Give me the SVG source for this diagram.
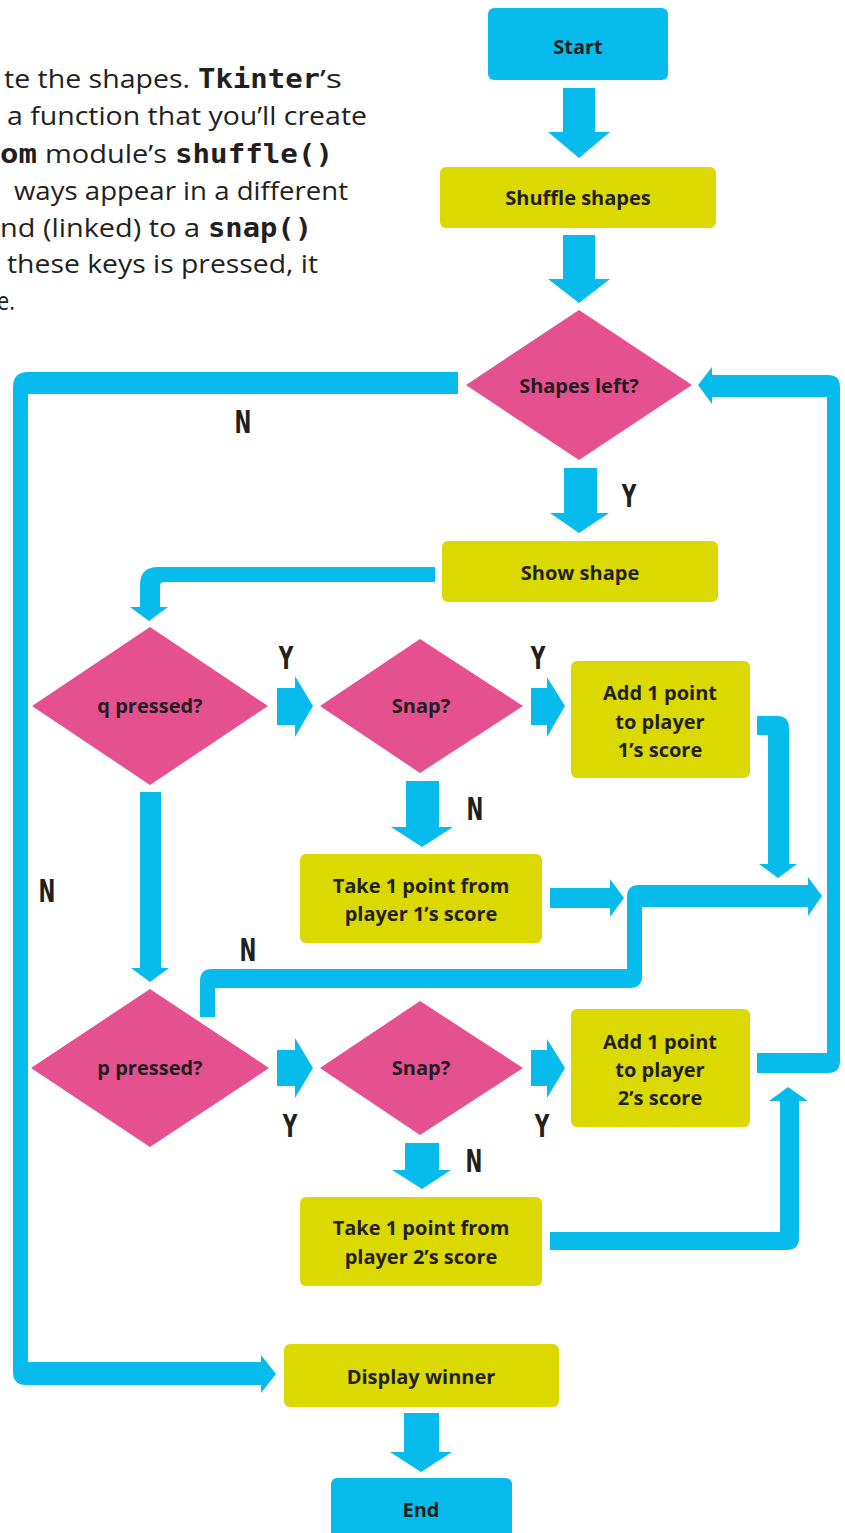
<svg xmlns="http://www.w3.org/2000/svg" width="845" height="1533" viewBox="0 0 845 1533">
<style>
.body{font-family:"Open Sans","Liberation Sans",sans-serif;font-size:26px;fill:#231f20}
.mono{font-family:"DejaVu Sans Mono","Liberation Mono",monospace;font-weight:bold;font-size:26px;fill:#231f20}
.cyan{fill:#08bbed}
.yel{fill:#dcd900}
.pink{fill:#e5508f}
.t{font-family:"Open Sans","Liberation Sans",sans-serif;font-weight:bold;font-size:20px;fill:#231f20;text-anchor:middle}
.lbl{font-family:"DejaVu Sans Condensed","Liberation Sans Narrow",sans-serif;font-weight:bold;font-size:32px;fill:#231f20;text-anchor:middle}
</style>
<rect width="845" height="1533" fill="#ffffff"/>
<g id="intro-text">
<text class="body" x="4" y="88" textLength="186" lengthAdjust="spacingAndGlyphs">te the shapes.</text>
<text class="mono" x="198" y="88" textLength="122" lengthAdjust="spacingAndGlyphs">Tkinter</text>
<text class="body" x="320" y="88" textLength="22" lengthAdjust="spacingAndGlyphs">’s</text>
<text class="body" x="7" y="125" textLength="360" lengthAdjust="spacingAndGlyphs">a function that you’ll create</text>
<text class="mono" x="0" y="163" textLength="37" lengthAdjust="spacingAndGlyphs">om</text>
<text class="body" x="45" y="163" textLength="122" lengthAdjust="spacingAndGlyphs">module’s</text>
<text class="mono" x="175" y="163" textLength="158" lengthAdjust="spacingAndGlyphs">shuffle()</text>
<text class="body" x="14" y="200" textLength="334" lengthAdjust="spacingAndGlyphs">ways appear in a different</text>
<text class="body" x="0" y="237" textLength="200" lengthAdjust="spacingAndGlyphs">nd (linked) to a</text>
<text class="mono" x="208" y="237" textLength="104" lengthAdjust="spacingAndGlyphs">snap()</text>
<text class="body" x="7" y="273" textLength="311" lengthAdjust="spacingAndGlyphs">these keys is pressed, it</text>
<text class="body" x="-3" y="310" textLength="18" lengthAdjust="spacingAndGlyphs">e.</text>
</g>
<g id="connectors" class="cyan">
<path d="M563,88 H595 V132 H610 L579,158 L548,132 H563 Z"/>
<path d="M563,235 H595 V279 H610 L579,303 L548,279 H563 Z"/>
<path d="M564,468 H597 V513 H609 L579,533 L550,513 H564 Z"/>
<path d="M435,567 H158 Q140,567 140,585 V607 H130 L149,621 L168,607 H160 V586 Q160,582 164,582 H435 Z"/>
<path d="M458,372 H28 Q13,372 13,387 V1372 Q13,1385 26,1385 H261 V1393 L276,1374 L261,1355 V1362 H28 V394 H458 Z"/>
<path d="M140,792 H161 V968 H169 L150,982 L131,968 H140 Z"/>
<path d="M277,688 H295 V676 L313,706 L295,737 V725 H277 Z"/>
<path d="M531,688 H547 V677 L565,706 L547,737 V725 H531 Z"/>
<path d="M406,781 H439 V827 H453 L422,847 L391,827 H406 Z"/>
<path d="M550,888 H610 V879 L624,898 L610,917 V908 H550 Z"/>
<path d="M757,716 H777 Q789,716 789,728 V864 H797 L778,878 L759,864 H768 V735 H757 Z"/>
<path d="M200,1017 V981 Q200,969 212,969 H627 V897 Q627,885 639,885 H808 V877 L822,896 L808,916 V907 H642 V976 Q642,988 630,988 H215 V1017 Z"/>
<path d="M757,1053 H827 V397 H712 V404 L698,385 L712,367 V375 H828 Q840,375 840,387 V1061 Q840,1073 828,1073 H757 Z"/>
<path d="M550,1232 H780 V1101 H769 L788,1087 L808,1101 H799 V1238 Q799,1250 787,1250 H550 Z"/>
<path d="M277,1050 H295 V1038 L313,1068 L295,1098 V1086 H277 Z"/>
<path d="M531,1050 H547 V1039 L565,1068 L547,1098 V1086 H531 Z"/>
<path d="M405,1143 H439 V1170 H451 L422,1189 L392,1170 H405 Z"/>
<path d="M404,1413 H439 V1452 H452 L421,1472 L390,1452 H404 Z"/>
</g>
<g id="labels">
<text class="lbl" transform="translate(243,433) scale(0.7,1)">N</text>
<text class="lbl" transform="translate(629,507) scale(0.7,1)">Y</text>
<text class="lbl" transform="translate(286,669) scale(0.7,1)">Y</text>
<text class="lbl" transform="translate(538,669) scale(0.7,1)">Y</text>
<text class="lbl" transform="translate(475,820) scale(0.7,1)">N</text>
<text class="lbl" transform="translate(47,902) scale(0.7,1)">N</text>
<text class="lbl" transform="translate(248,961) scale(0.7,1)">N</text>
<text class="lbl" transform="translate(290,1137) scale(0.7,1)">Y</text>
<text class="lbl" transform="translate(542,1137) scale(0.7,1)">Y</text>
<text class="lbl" transform="translate(474,1172) scale(0.7,1)">N</text>
</g>
<g id="n-start"><rect class="cyan" x="488" y="8" width="180" height="72" rx="6"/><text class="t" x="578" y="54">Start</text></g>
<g id="n-shuffle"><rect class="yel" x="440" y="167" width="276" height="61" rx="6"/><text class="t" x="578" y="205">Shuffle shapes</text></g>
<g id="n-shapesleft"><polygon class="pink" points="579,310 692,385 579,460 466,385"/><text class="t" x="579" y="393">Shapes left?</text></g>
<g id="n-show"><rect class="yel" x="442" y="541" width="276" height="61" rx="6"/><text class="t" x="580" y="580">Show shape</text></g>
<g id="n-q"><polygon class="pink" points="150,627 268,706 150,785 32,706"/><text class="t" x="150" y="713">q pressed?</text></g>
<g id="n-snap1"><polygon class="pink" points="420,639 523,706 420,773 320,706"/><text class="t" x="421" y="713">Snap?</text></g>
<g id="n-add1"><rect class="yel" x="571" y="661" width="179" height="117" rx="6"/><text class="t" x="660" y="700">Add 1 point</text><text class="t" x="660" y="729">to player</text><text class="t" x="660" y="757">1’s score</text></g>
<g id="n-take1"><rect class="yel" x="300" y="854" width="242" height="89" rx="6"/><text class="t" x="421" y="893">Take 1 point from</text><text class="t" x="421" y="921">player 1’s score</text></g>
<g id="n-p"><polygon class="pink" points="150,989 269,1068 150,1147 31,1068"/><text class="t" x="150" y="1075">p pressed?</text></g>
<g id="n-snap2"><polygon class="pink" points="420,1001 523,1068 420,1135 320,1068"/><text class="t" x="421" y="1075">Snap?</text></g>
<g id="n-add2"><rect class="yel" x="571" y="1009" width="179" height="118" rx="6"/><text class="t" x="660" y="1049">Add 1 point</text><text class="t" x="660" y="1077">to player</text><text class="t" x="660" y="1105">2’s score</text></g>
<g id="n-take2"><rect class="yel" x="300" y="1197" width="242" height="89" rx="6"/><text class="t" x="421" y="1235">Take 1 point from</text><text class="t" x="421" y="1264">player 2’s score</text></g>
<g id="n-display"><rect class="yel" x="284" y="1344" width="275" height="63" rx="6"/><text class="t" x="421" y="1384">Display winner</text></g>
<g id="n-end"><rect class="cyan" x="331" y="1478" width="181" height="70" rx="6"/><text class="t" x="421" y="1517">End</text></g>
</svg>
